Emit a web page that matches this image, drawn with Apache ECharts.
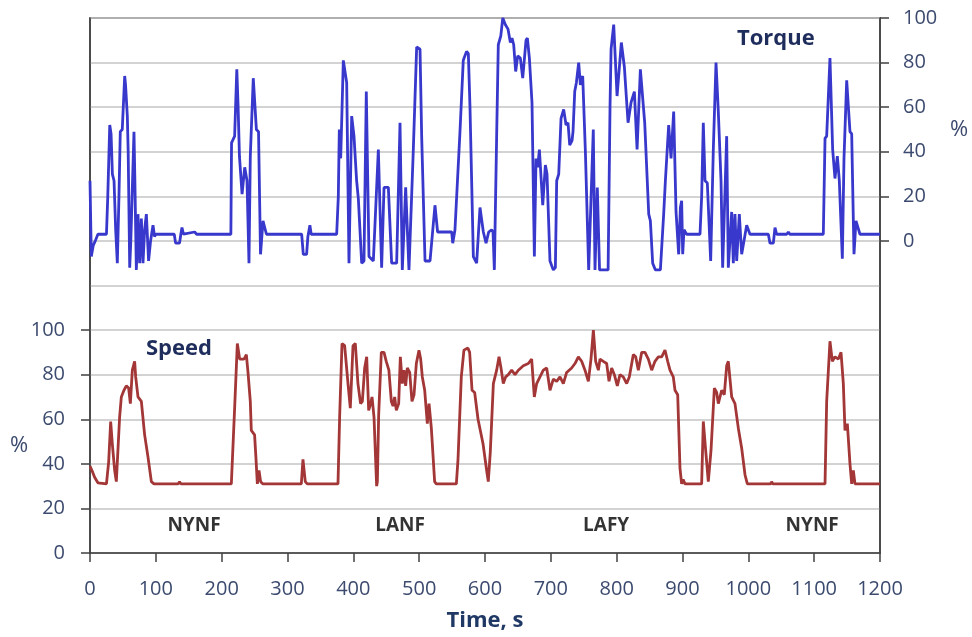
<!DOCTYPE html>
<html><head><meta charset="utf-8">
<script src="https://cdn.jsdelivr.net/npm/echarts@6/dist/echarts.min.js"></script>
<style>html,body{margin:0;padding:0;background:#fff}#c{width:972px;height:637px}</style>
</head><body><div id="c"></div>
<script>
// ---- Data ----
const torqueTime = [0,2,5,8,12,25,27,30,32,34,36.5,39,41.5,44,46,49,52.7,54,56.7,58,60.3,62,66.8,68,70.4,72.9,75.4,78,80.5,83,85.6,89,92,95.7,98,100,128,130,136,138,139.7,142,159,162,214,215,219.7,223,225,227,231,235,238.5,241.5,243.5,248,252.7,256,259,262.8,268,321.5,324,329,331,334,336,374.7,377.2,378.7,380.8,384.8,387.3,389.9,393.4,397.5,401,405,407.6,412.7,416.2,419.7,423.8,430.4,438,443,446.6,453.2,458.2,465.8,470.9,474.4,479.5,484.5,487,491,496.2,501.3,503.8,508.9,516.5,524,528,534,549.4,551,554.4,562,567,572,574.7,577.2,582.3,587.3,592.4,597.5,601.6,605.6,610,612.2,614.2,617.7,620.2,624,627,631,635,638.5,641,643.6,646.6,649.7,653.7,657.3,662.3,664.4,667.4,671.4,675,677.5,680,682.6,687.7,691.7,694.2,698.7,703.8,706.9,708.9,712,715.5,719.5,723.1,726.1,728.7,732.2,733.7,736.3,738.8,742.3,744.9,748.4,752.5,757.5,760,764.5,767.1,770.6,774,787,789.9,791.5,795.5,800.6,807.1,811.7,817.3,821.8,826.9,831,836,842.6,848.7,851.2,854.7,858.8,866.4,871.4,874,879,882.6,886.6,890.2,894.2,896.8,898.7,900.3,902.3,906.3,926.6,929.1,931.6,934.2,937.7,942.8,946.8,950.9,954.4,958.5,961,967.1,969.6,974.7,977.2,979.7,982.3,986.3,989.9,997.5,1002.5,1030.4,1032.9,1038,1040.5,1043,1058.2,1060.8,1063,1113.9,1116.5,1119,1124,1128.1,1131.6,1135.2,1138.2,1142.8,1145.3,1149.4,1154.4,1157,1160.5,1163.5,1169.6,1200];
const torqueValue = [27,-7,-2,0,3,3,20,52,48,30,27,5,-10,20,49,50,74,70,56,40,-12,0,49,30,-13,12,-10,10,-10,5,12,-9,0,7,2,3,3,-1,-1,3,6,3,4,3,3,44,47,77,60,38,21,33,27,-10,38,73,50,49,-6,9,3,3,-6,-6,2,7,3,3,20,50,37,81,81,71,-10,56,47,27,19,-10,-9,67,-7,-9,41,-12,24,24,-10,-10,53,-13,24,-13,-13,40,87,86,47,-9,-9,16,4,4,4,-1,5,49,81,85,84,60,-7,-10,15,4,-1,4,5,4,-13,47,88,92,100,97,95,89,91,88,76,83,82,73,90,91,82,62,-7,37,33,41,16,34,30,-9,-13,-12,27,30,55,59,52,53,43,45,49,67,71,80,70,74,40,-13,-13,50,-13,24,-13,-13,60,86,97,65,89,78,53,62,67,41,77,53,12,9,-10,-13,-13,12,27,52,37,58,13,-6,15,18,-6,5,3,3,20,53,27,26,-9,41,80,58,27,-12,47,-12,13,-10,12,-9,12,-6,7,3,3,-1,-1,6,3,3,4,3,3,46,47,82,41,28,38,27,-8,37,72,49,48,-6,9,3,3];

const speedTime = [0,3,7,12,25,28.4,31.4,33.9,37.5,40,45,47.6,51.6,55.2,58.7,61.3,64.3,67.8,69.4,72.9,78,83,88.1,93.2,97.2,134,136,138,214.7,219.7,223.8,227.3,230,233.9,237.5,240,243.5,245,250,252,254.2,256.7,259.2,262.8,321,323.5,327,330,376.7,379.2,382.8,386.8,391.9,395.4,399.5,403,407,411,413.7,417.2,420.3,423.3,426.3,428.4,431.4,435.4,436.5,438.5,442.5,446.6,450,454,457.7,460.3,462.8,465.3,468.9,471.4,474.4,477,479.5,482,485.6,489.1,492.2,495.7,499.7,502.3,504.8,508.4,512.4,515,518.5,523.5,526,556.5,559,564,568,574,576.7,580.3,584.3,589.4,597,603,605,608,612.7,617.7,621.3,624.3,627.8,631.4,635.4,640.5,645.6,650.6,658.2,665.8,670.9,674.9,678.5,683.5,688.6,693.7,698.7,703.8,708.9,713.9,719,724,731.6,736.7,741.8,746.8,751.9,757,761,764.6,768.1,772.2,774.7,779.7,784.8,788.4,792.4,796.5,801,805,810,815.2,819.2,825.3,828.9,832.9,838,843,848.1,853.2,858.2,863.3,868.4,873.4,877.5,881,886,888.6,892.7,896.2,898.7,901,903.8,929.1,931.6,935.2,939.2,943.3,948.4,951.9,954.4,959.5,963.5,967.1,969.6,974.7,979.7,984.8,989.9,995,998.5,1034,1035.4,1037,1116.5,1119,1124,1127.6,1131.6,1136.7,1140.8,1144.3,1146.8,1150.4,1154.4,1157,1159.5,1162,1200];
const speedValue = [39,37,34,31.5,31,41,59,49,37,32,61,70,73,75,74,67,82,86,79,70,68,53,43,32,31,31,32,31,31,65,94,87,87,87,89,81,68,55,53,43,31,37,32,31,31,42,32,31,31,61,94,93,76,65,93,94,76,67,68,83,88,64,67,70,61,30,32,62,90,90,86,82,68,66,70,64,67,88,76,82,75,83,81,68,71,85,91,87,79,73,58,67,56,32,31,31,42,79,91,92,90,73,72,60,49,36,32,45,76,82,88,83,76,79,80,82,80,82,84,85,87,70,76,79,82,83,73,78,77,79,76,81,83,85,88,86,82,77,87,100,86,82,87,86,85,77,83,80,75,80,79,76,79,89,88,82,90,90,87,82,86,88,88,91,86,82,79,73,71,38,31,33,31,31,59,46,32,46,74,72,67,73,71,84,86,70,67,56,47,35,31,31,32,31,31,68,95,86,88,87,90,76,55,58,40,31,37,31,31];

const xTicks = [0,100,200,300,400,500,600,700,800,900,1000,1100,1200];
const speedTicks = [0,20,40,60,80,100];
const torqueTicks = [0,20,40,60,80,100];
const phaseNames = ['NYNF','LANF','LAFY','NYNF'];
const phaseTime = [158,471,784,1097];
const phaseLevel = [12.5,12.5,12.5,12.5];

// ---- Chart ----
const font = '"Open Sans", "DejaVu Sans", sans-serif';
const tickColor = '#3b4a6e';
const axisDark = '#404040';
const chart = echarts.init(document.getElementById('c'));
const zip = (a, b) => a.map((v, i) => [v, b[i]]);
const plain = v => String(v);

chart.setOption({
  animation: false,
  backgroundColor: '#fff',
  grid: { left: 90, right: 92, top: 18, bottom: 81, show: true, borderColor: axisDark, borderWidth: 1.5, backgroundColor: 'transparent' },
  xAxis: {
    type: 'value', min: 0, max: 1200, interval: 100,
    axisLine: { lineStyle: { color: axisDark, width: 1.5 } },
    axisTick: { length: 9, lineStyle: { color: axisDark, width: 1.5 }, customValues: xTicks },
    axisLabel: { color: tickColor, fontSize: 20, margin: 26, fontFamily: font, customValues: xTicks, formatter: plain },
    splitLine: { show: false },
    name: 'Time, s', nameLocation: 'middle', nameGap: 57,
    nameTextStyle: { color: '#1f3864', fontSize: 22, fontWeight: 'bold', fontFamily: font }
  },
  yAxis: [
    {
      type: 'value', position: 'left', min: 0, max: 240, interval: 20,
      axisLine: { show: true, lineStyle: { color: axisDark, width: 1.5 } },
      axisTick: { show: true, length: 9, lineStyle: { color: axisDark, width: 1.5 }, customValues: speedTicks },
      axisLabel: { color: tickColor, fontSize: 20, margin: 25, fontFamily: font, customValues: speedTicks, formatter: plain },
      splitLine: { show: false }
    },
    {
      type: 'value', position: 'right', min: -140, max: 100, interval: 20,
      axisLine: { show: true, lineStyle: { color: axisDark, width: 1.5 } },
      axisTick: { show: true, length: 9, lineStyle: { color: axisDark, width: 1.5 }, customValues: torqueTicks },
      axisLabel: { color: tickColor, fontSize: 20, margin: 23, fontFamily: font, customValues: torqueTicks, formatter: plain },
      splitLine: { show: false }
    },
    {
      type: 'value', position: 'left', min: 0, max: 12, interval: 1,
      axisLine: { show: false }, axisTick: { show: false }, axisLabel: { show: false },
      splitLine: { show: true, lineStyle: { color: '#c4c4c4', width: 1.5 } }
    }
  ],
  graphic: [
    { type: 'text', left: 737, top: 28, style: { text: 'Torque', fill: '#1f2d5c', font: 'bold 22px ' + font } },
    { type: 'text', left: 146, top: 338, style: { text: 'Speed', fill: '#1f2d5c', font: 'bold 22px ' + font } },
    { type: 'text', left: 10, top: 435, style: { text: '%', fill: tickColor, font: '22px ' + font } },
    { type: 'text', left: 950, top: 119, style: { text: '%', fill: tickColor, font: '22px ' + font } }
  ],
  series: [
    {
      type: 'line', name: 'Speed', yAxisIndex: 0, data: zip(speedTime, speedValue),
      showSymbol: false, symbol: 'none', lineStyle: { color: '#a33636', width: 2.8 }, z: 3
    },
    {
      type: 'line', name: 'Torque', yAxisIndex: 1, data: zip(torqueTime, torqueValue),
      showSymbol: false, symbol: 'none', lineStyle: { color: '#3838cc', width: 2.8 }, z: 3
    },
    {
      type: 'scatter', yAxisIndex: 0, symbolSize: 0, silent: true,
      data: phaseTime.map((t, i) => ({ value: [t, phaseLevel[i]], name: phaseNames[i] })),
      label: { show: true, position: 'inside', formatter: p => p.name, color: '#000', fontSize: 19, fontWeight: 'bold', fontFamily: font }
    }
  ]
});
</script>
</body></html>
